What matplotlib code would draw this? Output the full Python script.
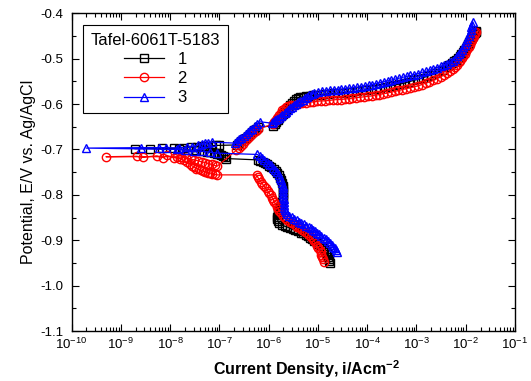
import numpy as np
import matplotlib
matplotlib.use('Agg')
import matplotlib.pyplot as plt
from matplotlib.ticker import LogLocator, MultipleLocator, FormatStrFormatter

plt.rcParams['font.family'] = ['Liberation Sans', 'DejaVu Sans']
plt.rcParams['mathtext.fontset'] = 'custom'
plt.rcParams['mathtext.rm'] = 'Liberation Sans'
plt.rcParams['mathtext.bf'] = 'Liberation Sans:bold'
plt.rcParams['axes.unicode_minus'] = False

# Tafel scans: (current density A/cm2, potential V), cathodic end -> Ecorr -> anodic end
curve1 = [(1.76e-5, -0.951), (1.70e-5, -0.946), (1.65e-5, -0.941), (1.60e-5, -0.936), (1.55e-5, -0.931),
          (1.45e-5, -0.926), (1.35e-5, -0.921), (1.25e-5, -0.917), (1.15e-5, -0.913), (1.05e-5, -0.909),
          (9.5e-6, -0.905), (8.5e-6, -0.901), (7.7e-6, -0.898), (6.9e-6, -0.895), (6.2e-6, -0.891),
          (5.6e-6, -0.888), (5.0e-6, -0.885), (4.5e-6, -0.883), (4.0e-6, -0.880), (3.5e-6, -0.878),
          (3.1e-6, -0.876), (2.7e-6, -0.873), (2.4e-6, -0.871), (2.1e-6, -0.869), (1.85e-6, -0.866),
          (1.65e-6, -0.862), (1.55e-6, -0.858), (1.5e-6, -0.853), (1.5e-6, -0.848), (1.52e-6, -0.843),
          (1.56e-6, -0.838), (1.62e-6, -0.833), (1.7e-6, -0.828), (1.8e-6, -0.822), (1.88e-6, -0.816),
          (1.93e-6, -0.810), (1.95e-6, -0.804), (1.95e-6, -0.798), (1.95e-6, -0.792), (1.94e-6, -0.786),
          (1.92e-6, -0.780), (1.88e-6, -0.774), (1.82e-6, -0.768), (1.74e-6, -0.762), (1.62e-6, -0.756),
          (1.5e-6, -0.751), (1.38e-6, -0.747), (1.26e-6, -0.743), (1.14e-6, -0.739), (1.03e-6, -0.736),
          (9.3e-7, -0.733), (8.4e-7, -0.730), (7.6e-7, -0.727), (6.8e-7, -0.725), (6.1e-7, -0.723),
          (1.35e-7, -0.720), (1.28e-7, -0.717), (1.2e-7, -0.715), (1.1e-7, -0.713), (1.0e-7, -0.711),
          (9e-8, -0.709), (7.8e-8, -0.708), (6.6e-8, -0.706), (5.5e-8, -0.705), (4.4e-8, -0.703),
          (3.3e-8, -0.702), (2.3e-8, -0.701), (1.5e-8, -0.700), (3.9e-9, -0.698), (1.9e-9, -0.698),
          (7e-9, -0.697), (1.2e-8, -0.697), (1.8e-8, -0.696), (2.6e-8, -0.695), (3.5e-8, -0.694),
          (4.5e-8, -0.693), (5.7e-8, -0.693), (7e-8, -0.692), (8.5e-8, -0.691), (1.0e-7, -0.691),
          (2.3e-7, -0.690), (2.5e-7, -0.686), (2.8e-7, -0.682), (3.1e-7, -0.678), (3.4e-7, -0.674),
          (3.8e-7, -0.670), (4.2e-7, -0.666), (4.6e-7, -0.662), (5.1e-7, -0.658), (5.6e-7, -0.654),
          (6.1e-7, -0.651), (1.23e-6, -0.648), (1.32e-6, -0.644), (1.42e-6, -0.640), (1.53e-6, -0.636),
          (1.65e-6, -0.631), (1.8e-6, -0.626), (1.95e-6, -0.622), (2.1e-6, -0.618), (2.3e-6, -0.613),
          (2.5e-6, -0.608), (2.75e-6, -0.603), (3.0e-6, -0.598), (3.3e-6, -0.593), (3.6e-6, -0.589),
          (3.9e-6, -0.587), (4.4e-6, -0.585), (5.0e-6, -0.584), (5.8e-6, -0.583), (6.8e-6, -0.582),
          (8e-6, -0.581), (9.5e-6, -0.580), (1.15e-5, -0.579), (1.4e-5, -0.578), (1.7e-5, -0.577),
          (2.1e-5, -0.576), (2.6e-5, -0.576), (3.2e-5, -0.575), (4e-5, -0.574), (5e-5, -0.573),
          (6.2e-5, -0.572), (7.7e-5, -0.570), (9.5e-5, -0.569), (1.2e-4, -0.567), (1.5e-4, -0.566),
          (1.85e-4, -0.564), (2.3e-4, -0.562), (2.9e-4, -0.560), (3.6e-4, -0.558), (4.5e-4, -0.556),
          (5.6e-4, -0.554), (7e-4, -0.551), (8.7e-4, -0.548), (1.08e-3, -0.545), (1.34e-3, -0.542),
          (1.65e-3, -0.539), (2.0e-3, -0.535), (2.4e-3, -0.532), (2.9e-3, -0.528), (3.4e-3, -0.524),
          (4.0e-3, -0.519), (4.6e-3, -0.515), (5.2e-3, -0.510), (5.8e-3, -0.506), (6.4e-3, -0.502),
          (7.0e-3, -0.498), (7.6e-3, -0.493), (8.2e-3, -0.489), (8.8e-3, -0.485), (9.4e-3, -0.480),
          (1.0e-2, -0.476), (1.06e-2, -0.471), (1.12e-2, -0.467), (1.18e-2, -0.463), (1.24e-2, -0.459),
          (1.3e-2, -0.456), (1.36e-2, -0.452), (1.42e-2, -0.449), (1.48e-2, -0.446), (1.54e-2, -0.444),
          (1.6e-2, -0.442), (1.65e-2, -0.440)]

curve2 = [(1.3e-5, -0.947), (1.26e-5, -0.942), (1.22e-5, -0.937), (1.18e-5, -0.932), (1.13e-5, -0.927),
          (1.08e-5, -0.922), (1.02e-5, -0.917), (9.6e-6, -0.912), (9.0e-6, -0.907), (8.4e-6, -0.902),
          (7.8e-6, -0.898), (7.2e-6, -0.893), (6.6e-6, -0.889), (6.0e-6, -0.885), (5.4e-6, -0.881),
          (4.8e-6, -0.877), (4.3e-6, -0.874), (3.8e-6, -0.870), (3.4e-6, -0.867), (3.0e-6, -0.863),
          (2.7e-6, -0.859), (2.4e-6, -0.855), (2.15e-6, -0.851), (1.95e-6, -0.846), (1.8e-6, -0.841),
          (1.66e-6, -0.836), (1.55e-6, -0.831), (1.46e-6, -0.826), (1.38e-6, -0.821), (1.31e-6, -0.816),
          (1.25e-6, -0.811), (1.18e-6, -0.806), (1.1e-6, -0.801), (1.02e-6, -0.796), (9.5e-7, -0.791),
          (8.8e-7, -0.786), (8.1e-7, -0.781), (7.5e-7, -0.776), (6.9e-7, -0.771), (6.4e-7, -0.766),
          (6.0e-7, -0.761), (5.7e-7, -0.756),
          (8.9e-8, -0.756), (8.0e-8, -0.755), (7.2e-8, -0.753), (6.5e-8, -0.752), (5.8e-8, -0.751),
          (5.2e-8, -0.749), (4.7e-8, -0.748), (4.2e-8, -0.746), (3.8e-8, -0.744), (3.4e-8, -0.742),
          (3.1e-8, -0.739), (2.8e-8, -0.736), (2.5e-8, -0.732), (2.2e-8, -0.728), (1.9e-8, -0.724),
          (1.6e-8, -0.720), (1.2e-8, -0.718), (8.5e-9, -0.713), (7.3e-9, -0.718), (5.4e-9, -0.714),
          (2.8e-9, -0.717), (2.1e-9, -0.715), (5e-10, -0.716),
          (1.4e-8, -0.716), (1.7e-8, -0.717), (2.1e-8, -0.719), (2.6e-8, -0.721), (3.1e-8, -0.723),
          (3.7e-8, -0.725), (4.4e-8, -0.727), (5.2e-8, -0.729), (6e-8, -0.731), (7e-8, -0.733),
          (8e-8, -0.735), (9e-8, -0.737),
          (2.2e-7, -0.702), (2.45e-7, -0.697), (2.7e-7, -0.692), (3.0e-7, -0.687), (3.3e-7, -0.682),
          (3.6e-7, -0.677), (4.0e-7, -0.672), (4.4e-7, -0.668), (4.9e-7, -0.664), (5.5e-7, -0.659),
          (6.2e-7, -0.654),
          (1.2e-6, -0.645), (1.3e-6, -0.640), (1.4e-6, -0.635), (1.5e-6, -0.630), (1.62e-6, -0.624),
          (1.75e-6, -0.619), (1.9e-6, -0.614), (2.05e-6, -0.610), (2.25e-6, -0.607), (2.5e-6, -0.605),
          (2.9e-6, -0.603), (3.4e-6, -0.601), (4e-6, -0.599), (4.8e-6, -0.598), (5.7e-6, -0.597),
          (6.8e-6, -0.596), (8.1e-6, -0.595), (9.7e-6, -0.594), (1.15e-5, -0.593), (1.4e-5, -0.593),
          (1.65e-5, -0.592), (2e-5, -0.591), (2.4e-5, -0.590), (2.9e-5, -0.590), (3.5e-5, -0.589),
          (4.2e-5, -0.588), (5e-5, -0.587), (6e-5, -0.586), (7.2e-5, -0.585), (8.6e-5, -0.584),
          (1.03e-4, -0.583), (1.23e-4, -0.582), (1.48e-4, -0.580), (1.77e-4, -0.579), (2.1e-4, -0.577),
          (2.5e-4, -0.576), (3e-4, -0.574), (3.6e-4, -0.572), (4.3e-4, -0.570), (5.2e-4, -0.568),
          (6.2e-4, -0.566), (7.4e-4, -0.564), (8.9e-4, -0.562), (1.07e-3, -0.560), (1.28e-3, -0.557),
          (1.53e-3, -0.554), (1.83e-3, -0.551), (2.2e-3, -0.548), (2.6e-3, -0.544), (3.1e-3, -0.540),
          (3.6e-3, -0.536), (4.2e-3, -0.532), (4.8e-3, -0.528), (5.4e-3, -0.523), (6.0e-3, -0.518),
          (6.6e-3, -0.513), (7.2e-3, -0.508), (7.8e-3, -0.504), (8.4e-3, -0.499), (9.0e-3, -0.494),
          (9.6e-3, -0.489), (1.02e-2, -0.484), (1.08e-2, -0.479), (1.14e-2, -0.474), (1.2e-2, -0.469),
          (1.26e-2, -0.464), (1.32e-2, -0.459), (1.38e-2, -0.455), (1.44e-2, -0.451), (1.5e-2, -0.447),
          (1.56e-2, -0.444), (1.62e-2, -0.441)]

curve3 = [(2.4e-5, -0.926), (2.3e-5, -0.922), (2.2e-5, -0.918), (2.05e-5, -0.914), (1.9e-5, -0.910),
          (1.75e-5, -0.906), (1.6e-5, -0.902), (1.45e-5, -0.898), (1.3e-5, -0.894), (1.18e-5, -0.890),
          (1.07e-5, -0.887), (9.7e-6, -0.883), (8.8e-6, -0.880), (8.0e-6, -0.877), (7.2e-6, -0.874),
          (6.5e-6, -0.871), (5.8e-6, -0.868), (5.2e-6, -0.865), (4.6e-6, -0.862), (4.1e-6, -0.859),
          (3.7e-6, -0.856), (3.3e-6, -0.853), (2.95e-6, -0.849), (2.65e-6, -0.846), (2.4e-6, -0.842),
          (2.2e-6, -0.838), (2.1e-6, -0.833), (2.05e-6, -0.828), (2.03e-6, -0.822), (2.02e-6, -0.816),
          (2.01e-6, -0.810), (2.0e-6, -0.804), (1.99e-6, -0.798), (1.98e-6, -0.792), (1.97e-6, -0.786),
          (1.95e-6, -0.780), (1.9e-6, -0.774), (1.82e-6, -0.768), (1.72e-6, -0.762), (1.6e-6, -0.756),
          (1.48e-6, -0.750), (1.36e-6, -0.745), (1.24e-6, -0.740), (1.12e-6, -0.735), (1.01e-6, -0.731),
          (9.1e-7, -0.727), (8.2e-7, -0.723), (7.4e-7, -0.719), (6.6e-7, -0.715), (5.9e-7, -0.711),
          (8.9e-8, -0.708), (6.4e-8, -0.706), (4.4e-8, -0.704), (3.0e-8, -0.703), (2.0e-8, -0.701),
          (1.4e-8, -0.700), (2.0e-10, -0.697),
          (2.6e-9, -0.696), (6.0e-9, -0.696), (8.3e-9, -0.696), (1.5e-8, -0.697), (2.2e-8, -0.695),
          (2.8e-8, -0.694), (3.7e-8, -0.690), (4.4e-8, -0.688), (5.1e-8, -0.686), (6.0e-8, -0.685),
          (7.0e-8, -0.684),
          (2.1e-7, -0.686), (2.3e-7, -0.682), (2.55e-7, -0.678), (2.8e-7, -0.674), (3.1e-7, -0.670),
          (3.4e-7, -0.666), (3.8e-7, -0.662), (4.2e-7, -0.658), (4.7e-7, -0.654), (5.3e-7, -0.649),
          (5.9e-7, -0.644), (6.7e-7, -0.639),
          (1.15e-6, -0.642), (1.25e-6, -0.639), (1.35e-6, -0.636), (1.47e-6, -0.633), (1.6e-6, -0.630),
          (1.75e-6, -0.627), (1.9e-6, -0.624), (2.1e-6, -0.620), (2.3e-6, -0.617), (2.5e-6, -0.613),
          (2.75e-6, -0.609), (3.0e-6, -0.606), (3.3e-6, -0.602), (3.6e-6, -0.599), (4.0e-6, -0.596),
          (4.4e-6, -0.593), (4.9e-6, -0.590), (5.4e-6, -0.587), (6.0e-6, -0.584), (6.7e-6, -0.581),
          (7.5e-6, -0.578), (8.5e-6, -0.576), (1.0e-5, -0.574), (1.2e-5, -0.572), (1.45e-5, -0.571),
          (1.75e-5, -0.570), (2.1e-5, -0.569), (2.5e-5, -0.568), (3.0e-5, -0.567), (3.6e-5, -0.566),
          (4.3e-5, -0.565), (5.2e-5, -0.564), (6.2e-5, -0.563), (7.4e-5, -0.562), (8.9e-5, -0.560),
          (1.07e-4, -0.559), (1.28e-4, -0.557), (1.53e-4, -0.555), (1.83e-4, -0.553), (2.2e-4, -0.551),
          (2.6e-4, -0.549), (3.1e-4, -0.547), (3.7e-4, -0.545), (4.4e-4, -0.543), (5.3e-4, -0.541),
          (6.3e-4, -0.539), (7.5e-4, -0.537), (9e-4, -0.535), (1.08e-3, -0.533), (1.3e-3, -0.530),
          (1.55e-3, -0.528), (1.85e-3, -0.525), (2.2e-3, -0.523), (2.6e-3, -0.520), (3.1e-3, -0.517),
          (3.6e-3, -0.514), (4.2e-3, -0.511), (4.8e-3, -0.508), (5.4e-3, -0.504), (6.0e-3, -0.500),
          (6.6e-3, -0.495), (7.2e-3, -0.490), (7.8e-3, -0.485), (8.4e-3, -0.480), (9.0e-3, -0.475),
          (9.6e-3, -0.469), (1.02e-2, -0.463), (1.08e-2, -0.457), (1.14e-2, -0.450), (1.2e-2, -0.443),
          (1.25e-2, -0.437), (1.3e-2, -0.431), (1.34e-2, -0.425), (1.38e-2, -0.420)]

labels = ['1', '2', '3']
colors = ['black', 'red', 'blue']
markers = ['s', 'o', '^']

fig = plt.figure(figsize=(5.31, 3.81), dpi=100)
ax = fig.add_axes([0.1347, 0.1312, 0.8352, 0.8339])

for data, lab, c, m in zip([curve1, curve2, curve3], labels, colors, markers):
    d = np.array(data)
    ax.plot(d[:, 0], d[:, 1], '-', color=c, lw=0.9, marker=m, ms=6,
            mfc='none', mec=c, mew=1.0, label=lab)

ax.set_xscale('log')
ax.set_xlim(1e-10, 1e-1)
ax.set_ylim(-1.1, -0.4)
ax.xaxis.set_major_locator(LogLocator(base=10, numticks=20))
ax.xaxis.set_minor_locator(LogLocator(base=10, subs=np.arange(2, 10), numticks=20))
ax.yaxis.set_major_locator(MultipleLocator(0.1))
ax.yaxis.set_minor_locator(MultipleLocator(0.05))
ax.yaxis.set_major_formatter(FormatStrFormatter('%.1f'))

ax.tick_params(which='both', direction='in', top=True, right=True, labelsize=9.5, width=0.8)
ax.tick_params(which='major', length=5)
ax.tick_params(which='minor', length=3)
ax.tick_params(axis='y', pad=6)
ax.tick_params(axis='x', pad=4)
for s in ax.spines.values():
    s.set_linewidth(1.0)

ax.set_xlabel(r'Current Density, i/Acm$^{\mathbf{-2}}$', fontsize=11.5, fontweight='bold', labelpad=3)
ax.xaxis.set_label_coords(0.53, -0.085)
ax.set_ylabel('Potential, E/V vs. Ag/AgCl', fontsize=11.5, labelpad=3)

leg = ax.legend(title='Tafel-6061T-5183', loc='upper left', bbox_to_anchor=(0.026, 0.962),
                borderaxespad=0, fontsize=12, title_fontsize=12, numpoints=1, handlelength=2.4,
                handletextpad=0.8, labelspacing=0.25, fancybox=False, edgecolor='black',
                framealpha=1, borderpad=0.45)
leg.get_frame().set_linewidth(0.8)

plt.savefig('out.png', dpi=100)
